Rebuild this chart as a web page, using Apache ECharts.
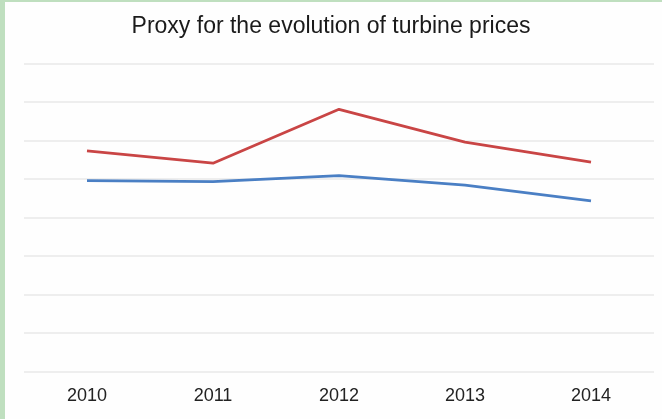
<!DOCTYPE html>
<html>
<head>
<meta charset="utf-8">
<script src="https://cdn.jsdelivr.net/npm/echarts@6/dist/echarts.min.js"></script>
<style>
  html, body { margin: 0; padding: 0; background: #ffffff; }
  #frame {
    position: absolute; left: 0; top: 0; width: 662px; height: 419px;
    box-sizing: border-box; border-left: 5px solid #bfdfbf; border-top: 2px solid #bfdfbf;
    background: #fefefe;
  }
  #chart { position: absolute; left: 0; top: 0; width: 662px; height: 419px; }
</style>
</head>
<body>
<div id="frame"></div>
<div id="chart"></div>
<script>
// Years on the horizontal axis
const years = ['2010', '2011', '2012', '2013', '2014'];
// Price proxy series (arbitrary index units, axis runs 0..8)
const upperSeries = [5.73, 5.41, 6.81, 5.96, 5.44];
const lowerSeries = [4.96, 4.93, 5.09, 4.84, 4.43];
const yMin = 0, yMax = 8, yStep = 1;

const chart = echarts.init(document.getElementById('chart'), null, { renderer: 'canvas' });
chart.setOption({
  backgroundColor: 'transparent',
  animation: false,
  title: {
    text: 'Proxy for the evolution of turbine prices',
    left: 'center',
    top: 10,
    textStyle: { fontFamily: 'Liberation Sans, Arial, sans-serif', fontSize: 23, fontWeight: 'normal', color: '#1a1a1a' }
  },
  grid: { left: 24, right: 8, top: 63.5, bottom: 47.5, containLabel: false },
  xAxis: {
    type: 'category',
    data: years,
    boundaryGap: true,
    axisLine: { show: false },
    axisTick: { show: false },
    axisLabel: { margin: 16, fontFamily: 'Liberation Sans, Arial, sans-serif', fontSize: 18, color: '#222' }
  },
  yAxis: {
    type: 'value',
    min: yMin, max: yMax, interval: yStep,
    axisLabel: { show: false },
    axisLine: { show: false },
    axisTick: { show: false },
    splitLine: { lineStyle: { color: '#e9e9e9', width: 1.5 } }
  },
  series: [
    {
      type: 'line', data: upperSeries, symbol: 'none',
      lineStyle: { color: '#c94545', width: 2.8 }
    },
    {
      type: 'line', data: lowerSeries, symbol: 'none',
      lineStyle: { color: '#4a7fc4', width: 2.8 }
    }
  ]
});
</script>
</body>
</html>
